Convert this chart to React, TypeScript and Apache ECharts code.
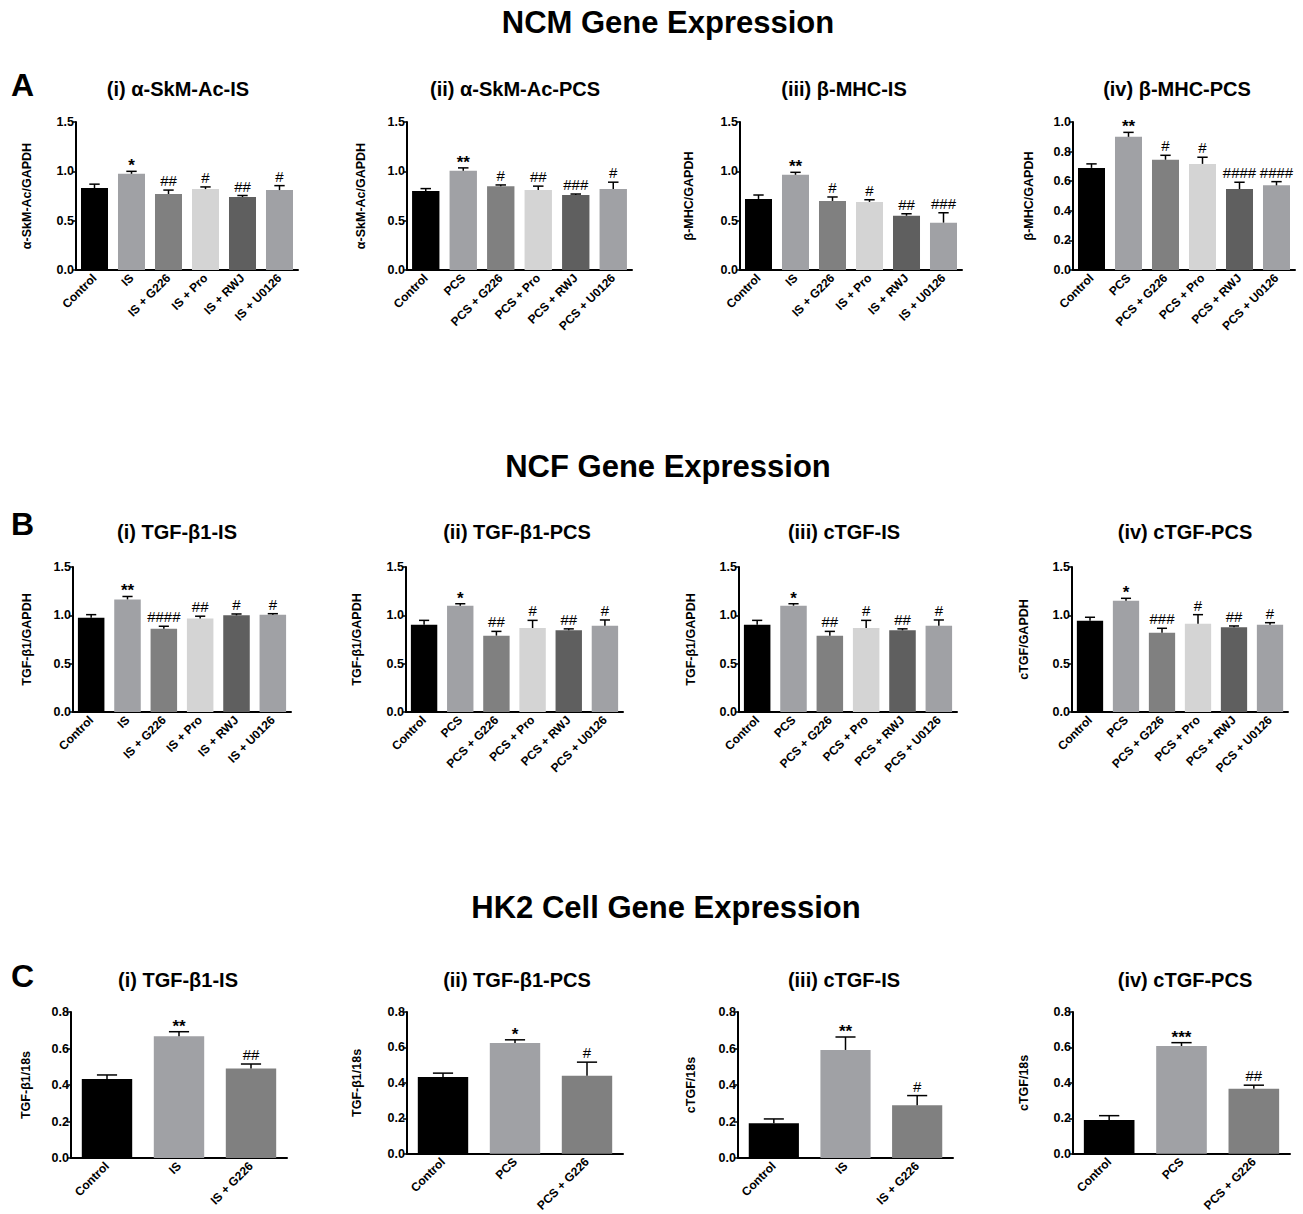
import React, { useEffect, useRef } from "react";
import * as echarts from "echarts";

const FONT = "'Liberation Sans', Arial, Helvetica, sans-serif";

// ---------- categories ----------
const IS_CATS = ["Control", "IS", "IS + G226", "IS + Pro", "IS + RWJ", "IS + U0126"];
const PCS_CATS = ["Control", "PCS", "PCS + G226", "PCS + Pro", "PCS + RWJ", "PCS + U0126"];
const IS_CATS_3 = ["Control", "IS", "IS + G226"];
const PCS_CATS_3 = ["Control", "PCS", "PCS + G226"];

const BAR_COLORS_6 = ["#000000", "#a0a1a5", "#808080", "#d4d4d4", "#5f5f5f", "#a0a1a5"];
const BAR_COLORS_3 = ["#000000", "#a0a1a5", "#808080"];

// ---------- Row A: NCM ----------
const A1_MEAN = [0.83, 0.975, 0.77, 0.82, 0.74, 0.81];
const A1_SEM = [0.04, 0.025, 0.04, 0.022, 0.015, 0.045];
const A1_SIG = ["", "*", "##", "#", "##", "#"];

const A2_MEAN = [0.8, 1.005, 0.85, 0.81, 0.76, 0.82];
const A2_SEM = [0.025, 0.03, 0.012, 0.04, 0.01, 0.07];
const A2_SIG = ["", "**", "#", "##", "###", "#"];

const A3_MEAN = [0.72, 0.965, 0.7, 0.69, 0.55, 0.48];
const A3_SEM = [0.04, 0.025, 0.04, 0.022, 0.02, 0.1];
const A3_SIG = ["", "**", "#", "#", "##", "###"];

const A4_MEAN = [0.69, 0.9, 0.745, 0.717, 0.547, 0.572];
const A4_SEM = [0.027, 0.03, 0.03, 0.045, 0.046, 0.025];
const A4_SIG = ["", "**", "#", "#", "####", "####"];

// ---------- Row B: NCF ----------
const B1_MEAN = [0.975, 1.165, 0.862, 0.966, 1.0, 1.005];
const B1_SEM = [0.032, 0.03, 0.025, 0.025, 0.014, 0.012];
const B1_SIG = ["", "**", "####", "##", "#", "#"];

const B2_MEAN = [0.903, 1.1, 0.79, 0.869, 0.845, 0.893];
const B2_SEM = [0.045, 0.02, 0.044, 0.079, 0.015, 0.059];
const B2_SIG = ["", "*", "##", "#", "##", "#"];

const B3_MEAN = [0.903, 1.1, 0.79, 0.869, 0.845, 0.893];
const B3_SEM = [0.045, 0.02, 0.044, 0.079, 0.015, 0.059];
const B3_SIG = ["", "*", "##", "#", "##", "#"];

const B4_MEAN = [0.945, 1.152, 0.82, 0.914, 0.876, 0.903];
const B4_SEM = [0.035, 0.024, 0.046, 0.093, 0.014, 0.021];
const B4_SIG = ["", "*", "###", "#", "##", "#"];

// ---------- Row C: HK2 ----------
const C1_MEAN = [0.433, 0.667, 0.49];
const C1_SEM = [0.022, 0.025, 0.025];
const C1_SIG = ["", "**", "##"];

const C2_MEAN = [0.433, 0.625, 0.44];
const C2_SEM = [0.022, 0.018, 0.077];
const C2_SIG = ["", "*", "#"];

const C3_MEAN = [0.19, 0.592, 0.289];
const C3_SEM = [0.024, 0.071, 0.053];
const C3_SIG = ["", "**", "#"];

const C4_MEAN = [0.19, 0.608, 0.367];
const C4_SEM = [0.025, 0.019, 0.02];
const C4_SIG = ["", "***", "##"];

// ---------- panel texts / axis scales ----------
const PANEL_TITLES = [
  "(i) α-SkM-Ac-IS", "(ii) α-SkM-Ac-PCS", "(iii) β-MHC-IS", "(iv) β-MHC-PCS",
  "(i) TGF-β1-IS", "(ii) TGF-β1-PCS", "(iii) cTGF-IS", "(iv) cTGF-PCS",
  "(i) TGF-β1-IS", "(ii) TGF-β1-PCS", "(iii) cTGF-IS", "(iv) cTGF-PCS",
];
const Y_NAMES = [
  "α-SkM-Ac/GAPDH", "α-SkM-Ac/GAPDH", "β-MHC/GAPDH", "β-MHC/GAPDH",
  "TGF-β1/GAPDH", "TGF-β1/GAPDH", "TGF-β1/GAPDH", "cTGF/GAPDH",
  "TGF-β1/18s", "TGF-β1/18s", "cTGF/18s", "cTGF/18s",
];
const Y_MAX = [1.5, 1.5, 1.5, 1.0, 1.5, 1.5, 1.5, 1.5, 0.8, 0.8, 0.8, 0.8];
const Y_STEP = [0.5, 0.5, 0.5, 0.2, 0.5, 0.5, 0.5, 0.5, 0.2, 0.2, 0.2, 0.2];

const SECTION_TITLES = ["NCM Gene Expression", "NCF Gene Expression", "HK2 Cell Gene Expression"];
const SECTION_LETTERS = ["A", "B", "C"];

const PANEL_DATA = [
  { cats: IS_CATS, colors: BAR_COLORS_6, mean: A1_MEAN, sem: A1_SEM, sig: A1_SIG },
  { cats: PCS_CATS, colors: BAR_COLORS_6, mean: A2_MEAN, sem: A2_SEM, sig: A2_SIG },
  { cats: IS_CATS, colors: BAR_COLORS_6, mean: A3_MEAN, sem: A3_SEM, sig: A3_SIG },
  { cats: PCS_CATS, colors: BAR_COLORS_6, mean: A4_MEAN, sem: A4_SEM, sig: A4_SIG },
  { cats: IS_CATS, colors: BAR_COLORS_6, mean: B1_MEAN, sem: B1_SEM, sig: B1_SIG },
  { cats: PCS_CATS, colors: BAR_COLORS_6, mean: B2_MEAN, sem: B2_SEM, sig: B2_SIG },
  { cats: PCS_CATS, colors: BAR_COLORS_6, mean: B3_MEAN, sem: B3_SEM, sig: B3_SIG },
  { cats: PCS_CATS, colors: BAR_COLORS_6, mean: B4_MEAN, sem: B4_SEM, sig: B4_SIG },
  { cats: IS_CATS_3, colors: BAR_COLORS_3, mean: C1_MEAN, sem: C1_SEM, sig: C1_SIG },
  { cats: PCS_CATS_3, colors: BAR_COLORS_3, mean: C2_MEAN, sem: C2_SEM, sig: C2_SIG },
  { cats: IS_CATS_3, colors: BAR_COLORS_3, mean: C3_MEAN, sem: C3_SEM, sig: C3_SIG },
  { cats: PCS_CATS_3, colors: BAR_COLORS_3, mean: C4_MEAN, sem: C4_SEM, sig: C4_SIG },
];

// ---------- layout (pixels) ----------
const GRID_BOXES = [
  [76, 122, 222, 148], [407, 122, 225, 148], [740, 122, 222, 148], [1073, 122, 222, 148],
  [73, 567, 218, 145], [406, 567, 217, 145], [739, 567, 218, 145], [1072, 567, 216, 145],
  [71, 1012, 216, 146], [407, 1012, 216, 146], [738, 1012, 215, 146], [1073, 1012, 217, 146],
];
const NAME_GAPS = [43, 40, 45, 38, 40, 43, 42, 42, 39, 44, 41, 43];
const TITLE_POS = [
  [178, 89], [515, 89], [844, 89], [1177, 89],
  [177, 532], [517, 532], [844, 532], [1185, 532],
  [178, 980], [517, 980], [844, 980], [1185, 980],
];
const SECTION_POS = [[668, 22], [668, 466], [666, 907]];
const LETTER_POS = [[11, 85], [11, 524], [11, 976]];

function buildOption() {
  const grid: any[] = [];
  const xAxis: any[] = [];
  const yAxis: any[] = [];
  const series: any[] = [];
  const graphic: any[] = [];

  PANEL_DATA.forEach((p, i) => {
    const [left, top, width, height] = GRID_BOXES[i];
    grid.push({ left, top, width, height, containLabel: false });
    xAxis.push({
      type: "category",
      gridIndex: i,
      data: p.cats,
      axisLine: { lineStyle: { color: "#000", width: 2 } },
      axisTick: { alignWithLabel: true, length: 5, lineStyle: { color: "#000", width: 1.5 } },
      axisLabel: {
        rotate: 45,
        interval: 0,
        margin: 6,
        color: "#000",
        fontSize: 12,
        fontWeight: "bold",
        fontFamily: FONT,
      },
      splitLine: { show: false },
    });
    yAxis.push({
      type: "value",
      gridIndex: i,
      min: 0,
      max: Y_MAX[i],
      interval: Y_STEP[i],
      name: Y_NAMES[i],
      nameLocation: "middle",
      nameGap: NAME_GAPS[i],
      nameTextStyle: { color: "#000", fontSize: 12.5, fontWeight: "bold", fontFamily: FONT },
      axisLine: { show: true, lineStyle: { color: "#000", width: 2 } },
      axisTick: { show: true, length: 4, lineStyle: { color: "#000", width: 1.5 } },
      axisLabel: {
        formatter: (v: number) => v.toFixed(1),
        margin: 2,
        color: "#000",
        fontSize: 12.5,
        fontWeight: "bold",
        fontFamily: FONT,
      },
      splitLine: { show: false },
    });
    series.push({
      type: "bar",
      xAxisIndex: i,
      yAxisIndex: i,
      barCategoryGap: p.cats.length === 3 ? "30%" : "27%",
      data: p.mean.map((v, j) => ({ value: v, itemStyle: { color: p.colors[j] } })),
      silent: true,
    });
    const sig = p.sig;
    series.push({
      type: "custom",
      xAxisIndex: i,
      yAxisIndex: i,
      silent: true,
      z: 5,
      data: p.mean.map((v, j) => [j, v, p.sem[j]]),
      encode: { x: 0, y: 1 },
      renderItem: (params: any, api: any) => {
        const j = api.value(0);
        const v = api.value(1);
        const e = api.value(2);
        const base = api.coord([j, v]);
        const tp = api.coord([j, v + e]);
        const band = api.size([1, 0])[0];
        const half = band * 0.14;
        const label = sig[params.dataIndex] || "";
        const isStar = label.indexOf("*") >= 0;
        return {
          type: "group",
          children: [
            {
              type: "line",
              shape: { x1: base[0], y1: base[1], x2: tp[0], y2: tp[1] },
              style: { stroke: "#000", lineWidth: 1.5 },
            },
            {
              type: "line",
              shape: { x1: tp[0] - half, y1: tp[1], x2: tp[0] + half, y2: tp[1] },
              style: { stroke: "#000", lineWidth: 1.5 },
            },
            {
              type: "text",
              x: tp[0],
              y: isStar ? tp[1] + 3 : tp[1] - 2,
              style: {
                text: label,
                align: "center",
                verticalAlign: "bottom",
                fill: "#000",
                fontSize: isStar ? 17 : 15,
                fontWeight: isStar ? "bold" : "normal",
                fontFamily: FONT,
              },
            },
          ],
        };
      },
    });
    graphic.push({
      type: "text",
      x: TITLE_POS[i][0],
      y: TITLE_POS[i][1],
      style: {
        text: PANEL_TITLES[i],
        align: "center",
        verticalAlign: "middle",
        fill: "#000",
        fontSize: 20,
        fontWeight: "bold",
        fontFamily: FONT,
      },
    });
  });

  SECTION_TITLES.forEach((t, k) => {
    graphic.push({
      type: "text",
      x: SECTION_POS[k][0],
      y: SECTION_POS[k][1],
      style: {
        text: t,
        align: "center",
        verticalAlign: "middle",
        fill: "#000",
        fontSize: 31,
        fontWeight: "bold",
        fontFamily: FONT,
      },
    });
    graphic.push({
      type: "text",
      x: LETTER_POS[k][0],
      y: LETTER_POS[k][1],
      style: {
        text: SECTION_LETTERS[k],
        align: "left",
        verticalAlign: "middle",
        fill: "#000",
        fontSize: 32,
        fontWeight: "bold",
        fontFamily: FONT,
      },
    });
  });

  return {
    animation: false,
    backgroundColor: "#ffffff",
    textStyle: { fontFamily: FONT },
    grid,
    xAxis,
    yAxis,
    series,
    graphic,
  };
}

export default function App() {
  const ref = useRef<HTMLDivElement>(null);
  useEffect(() => {
    document.body.style.margin = "0";
    if (!ref.current) return;
    const chart = echarts.init(ref.current, undefined, { renderer: "svg" });
    chart.setOption(buildOption() as any);
    return () => {
      chart.dispose();
    };
  }, []);
  return <div ref={ref} style={{ width: 1303, height: 1214, background: "#fff" }} />;
}
